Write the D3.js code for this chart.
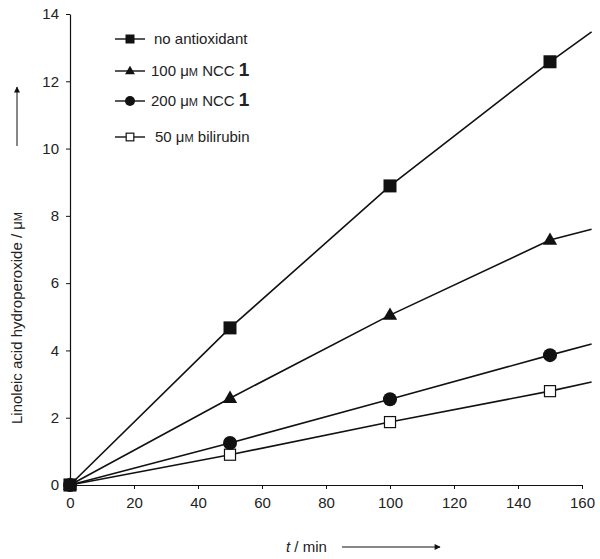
<!DOCTYPE html>
<html>
<head>
<meta charset="utf-8">
<script src="https://cdn.jsdelivr.net/npm/d3@7"></script>
<style>
  html, body { margin: 0; padding: 0; background: #fff; }
  svg { display: block; font-family: "Liberation Sans", Arial, Helvetica, sans-serif; }
</style>
</head>
<body>
<svg id="chart" width="600" height="559"></svg>
<script>
// ---- data ----
const times = [0, 50, 100, 150];
const lineEndTime = 163;
const noAntioxidant = [0, 4.67, 8.89, 12.58];
const ncc100 = [0, 2.58, 5.05, 7.28];
const ncc200 = [0, 1.25, 2.55, 3.86];
const bilirubin50 = [0, 0.9, 1.87, 2.79];
// fitted-line values at the right end of the plot
const lineEnds = [13.47, 7.6, 4.19, 3.06];
const seriesNames = ["no antioxidant", "100 μM NCC 1", "200 μM NCC 1", "50 μM bilirubin"];
const xTicks = [0, 20, 40, 60, 80, 100, 120, 140, 160];
const yTicks = [0, 2, 4, 6, 8, 10, 12, 14];

const svg = d3.select("#chart");
const ink = "#111";
const fs = "15px";

const x = d3.scaleLinear().domain([0, 160]).range([70, 582]);
const y = d3.scaleLinear().domain([0, 14]).range([485, 14]);

// axes
const xAxis = d3.axisBottom(x).tickValues(xTicks).tickSize(4).tickSizeOuter(0).tickPadding(6);
const yAxis = d3.axisLeft(y).tickValues(yTicks).tickSize(4).tickSizeOuter(0).tickPadding(5);

const gx = svg.append("g").attr("transform", `translate(0,${y(0)})`).call(xAxis);
const gy = svg.append("g").attr("transform", `translate(${x(0)},0)`).call(yAxis);
[gx, gy].forEach(g => {
  g.select(".domain").attr("stroke", ink).attr("stroke-width", 1.2);
  g.selectAll(".tick line").attr("stroke", ink).attr("stroke-width", 1);
  g.selectAll(".tick text").attr("fill", "#222").style("font-size", fs)
    .style("font-family", "'Liberation Sans', Arial, sans-serif");
});
gx.selectAll(".tick text").attr("dy", "0.85em");
gy.selectAll(".tick text").attr("dx", "-2px");

// series
const allSeries = [
  { name: seriesNames[0], vals: noAntioxidant, end: lineEnds[0], sym: "square" },
  { name: seriesNames[1], vals: ncc100, end: lineEnds[1], sym: "triangle" },
  { name: seriesNames[2], vals: ncc200, end: lineEnds[2], sym: "circle" },
  { name: seriesNames[3], vals: bilirubin50, end: lineEnds[3], sym: "open" }
];

const line = d3.line().x(d => x(d[0])).y(d => y(d[1]));

allSeries.forEach(s => {
  const pts = times.map((t, i) => [t, s.vals[i]]);
  pts.push([lineEndTime, s.end]);
  svg.append("path").attr("d", line(pts)).attr("fill", "none")
    .attr("stroke", ink).attr("stroke-width", 1.6);
});

function drawMarker(g, sym, cx, cy, size) {
  if (sym === "square") {
    g.append("rect").attr("x", cx - size / 2).attr("y", cy - size / 2)
      .attr("width", size).attr("height", size).attr("fill", ink);
  } else if (sym === "open") {
    const s = size * 0.85;
    g.append("rect").attr("x", cx - s / 2).attr("y", cy - s / 2)
      .attr("width", s).attr("height", s).attr("fill", "#fff")
      .attr("stroke", ink).attr("stroke-width", 1.2);
  } else if (sym === "circle") {
    g.append("circle").attr("cx", cx).attr("cy", cy).attr("r", size / 2 + 0.5).attr("fill", ink);
  } else if (sym === "triangle") {
    const w = size * 1.1, h = size * 0.95;
    g.append("path").attr("d", `M${cx},${cy - h * 0.62}L${cx + w / 2},${cy + h * 0.38}L${cx - w / 2},${cy + h * 0.38}Z`)
      .attr("fill", ink);
  }
}

// draw markers, bottom series first so the square at origin sits on top
const mg = svg.append("g");
allSeries.slice().reverse().forEach(s => {
  times.forEach((t, i) => drawMarker(mg, s.sym, x(t), y(s.vals[i]), 13));
});

// legend
const legY = [39, 71, 101, 137];
const legX = [154, 151, 151, 155];
const lg = svg.append("g");
allSeries.forEach((s, i) => {
  const ly = legY[i];
  lg.append("line").attr("x1", 115).attr("x2", 145).attr("y1", ly).attr("y2", ly)
    .attr("stroke", ink).attr("stroke-width", 1.4);
  drawMarker(lg, s.sym, 130, ly, 9);
  const txt = lg.append("text").attr("x", legX[i]).attr("y", ly + 5)
    .attr("fill", "#222").style("font-size", fs);
  if (s.name.includes("μM")) {
    const m = s.name.match(/^(\S+) μM (.*)$/);
    txt.append("tspan").text(m[1] + " μ");
    txt.append("tspan").text("M").style("font-size", "11px");
    if (m[2].endsWith(" 1")) {
      txt.append("tspan").text(" " + m[2].slice(0, -2) + " ");
      txt.append("tspan").text("1").style("font-weight", "bold").style("font-size", "19px");
    } else {
      txt.append("tspan").text(" " + m[2]);
    }
  } else {
    txt.text(s.name);
  }
});

// y axis title with arrow
const yt = svg.append("text").attr("transform", "translate(22,318) rotate(-90)")
  .attr("text-anchor", "middle").attr("fill", "#222").style("font-size", fs);
yt.append("tspan").text("Linoleic acid hydroperoxide / μ");
yt.append("tspan").text("M").style("font-size", "11px");

const defs = svg.append("defs");
defs.append("marker").attr("id", "arr").attr("viewBox", "0 0 10 10")
  .attr("refX", 9).attr("refY", 5).attr("markerWidth", 9).attr("markerHeight", 6)
  .attr("orient", "auto").attr("markerUnits", "userSpaceOnUse")
  .append("path").attr("d", "M0,0L10,5L0,10Z").attr("fill", ink);

svg.append("line").attr("x1", 17).attr("x2", 17).attr("y1", 146).attr("y2", 87)
  .attr("stroke", ink).attr("stroke-width", 1).attr("marker-end", "url(#arr)");

// x axis title with arrow
const xt = svg.append("text").attr("x", 286).attr("y", 552).attr("fill", "#222").style("font-size", fs);
xt.append("tspan").text("t").style("font-style", "italic");
xt.append("tspan").text(" / min");
svg.append("line").attr("x1", 342).attr("x2", 440).attr("y1", 547).attr("y2", 547)
  .attr("stroke", ink).attr("stroke-width", 1).attr("marker-end", "url(#arr)");
</script>
</body>
</html>
